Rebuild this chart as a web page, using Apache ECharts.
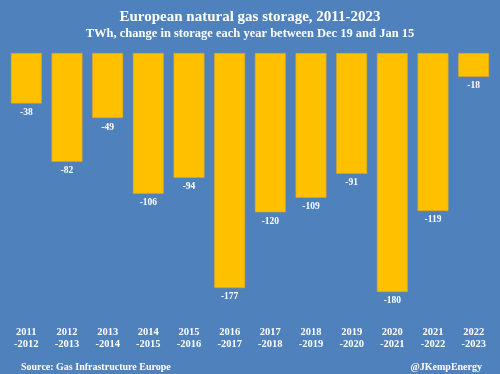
<!DOCTYPE html>
<html><head><meta charset="utf-8">
<script src="https://cdn.jsdelivr.net/npm/echarts@6/dist/echarts.min.js"></script>
<style>html,body{margin:0;padding:0;background:#4f81bd}#c{width:500px;height:374px}</style>
</head><body><div id="c"></div>
<script>
const categories = ['2011\n-2012','2012\n-2013','2013\n-2014','2014\n-2015','2015\n-2016','2016\n-2017','2017\n-2018','2018\n-2019','2019\n-2020','2020\n-2021','2021\n-2022','2022\n-2023'];
const storageChange = [-38,-82,-49,-106,-94,-177,-120,-109,-91,-180,-119,-18];
const serif = '"Liberation Serif","DejaVu Serif",serif';
const chart = echarts.init(document.getElementById('c'));
chart.setOption({
  backgroundColor: '#4f81bd',
  animation: false,
  title: [
    {text: 'European natural gas storage, 2011-2023', left: 'center', top: 5,
     textStyle: {color: '#fff', fontFamily: serif, fontWeight: 'bold', fontSize: 15}},
    {text: 'TWh, change in storage each year between Dec 19 and Jan 15', left: 'center', top: 22,
     textStyle: {color: '#fff', fontFamily: serif, fontWeight: 'bold', fontSize: 12.5}},
    {text: 'Source: Gas Infrastructure Europe', left: 16, top: 357,
     textStyle: {color: '#fff', fontFamily: serif, fontWeight: 'bold', fontSize: 10}},
    {text: '@JKempEnergy', right: 13, top: 357,
     textStyle: {color: '#fff', fontFamily: serif, fontWeight: 'bold', fontSize: 10}}
  ],
  grid: {left: 6, right: 6, top: 53, height: 239, containLabel: false},
  xAxis: {
    type: 'category', data: categories,
    axisLine: {show: false, onZero: false}, axisTick: {show: false},
    axisLabel: {color: '#fff', fontFamily: serif, fontWeight: 'bold', fontSize: 10.5, margin: 34, lineHeight: 12}
  },
  yAxis: {type: 'value', min: -180, max: 0, show: false, splitLine: {show: false}},
  series: [{
    type: 'bar', data: storageChange, barCategoryGap: '24%',
    itemStyle: {color: '#ffc000', borderColor: '#d9a520', borderWidth: 0.6},
    label: {show: true, position: 'bottom', distance: 4, color: '#fff', fontFamily: serif, fontWeight: 'bold', fontSize: 9.5}
  }]
});
</script></body></html>
